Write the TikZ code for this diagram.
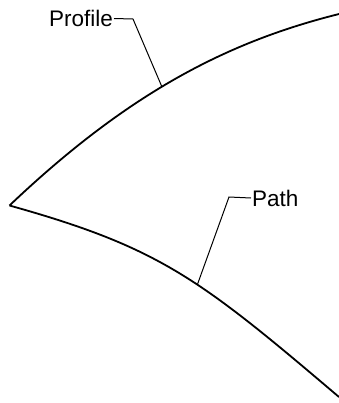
\documentclass[tikz,border=0pt]{standalone}
\usepackage{fontspec}
\setmainfont{Liberation Sans}
\begin{document}
\begin{tikzpicture}[x=1bp,y=-1bp,
  curve/.style={line width=1.8bp,line join=round},
  leader/.style={line width=1bp},
  lbl/.style={inner sep=0pt,font=\fontsize{22.5bp}{25bp}\selectfont}]
\useasboundingbox (0,0) rectangle (339,403);
\coordinate (tip) at (9.5,205.5);
\coordinate (pend) at (339,14);
\coordinate (qend) at (339,397);
\draw[curve] (tip) .. controls (129.5,91.5) and (229,41.5) .. coordinate[pos=0.45] (pe) (pend);
\draw[curve] (tip) .. controls (159.5,247.5) and (199,278) .. coordinate[pos=0.57] (qe) (qend);
\node[lbl,anchor=east] (prof) at (113,18.5) {Profile};
\node[lbl,anchor=west] (path) at (252,198) {Path};
\coordinate (pk) at (133,19);
\coordinate (qk) at (229,197);
\draw[leader] (prof.east) ++(1,0) -- (pk) -- (pe);
\draw[leader] (path.west) ++(-1,0) -- (qk) -- (qe);
\end{tikzpicture}
\end{document}
